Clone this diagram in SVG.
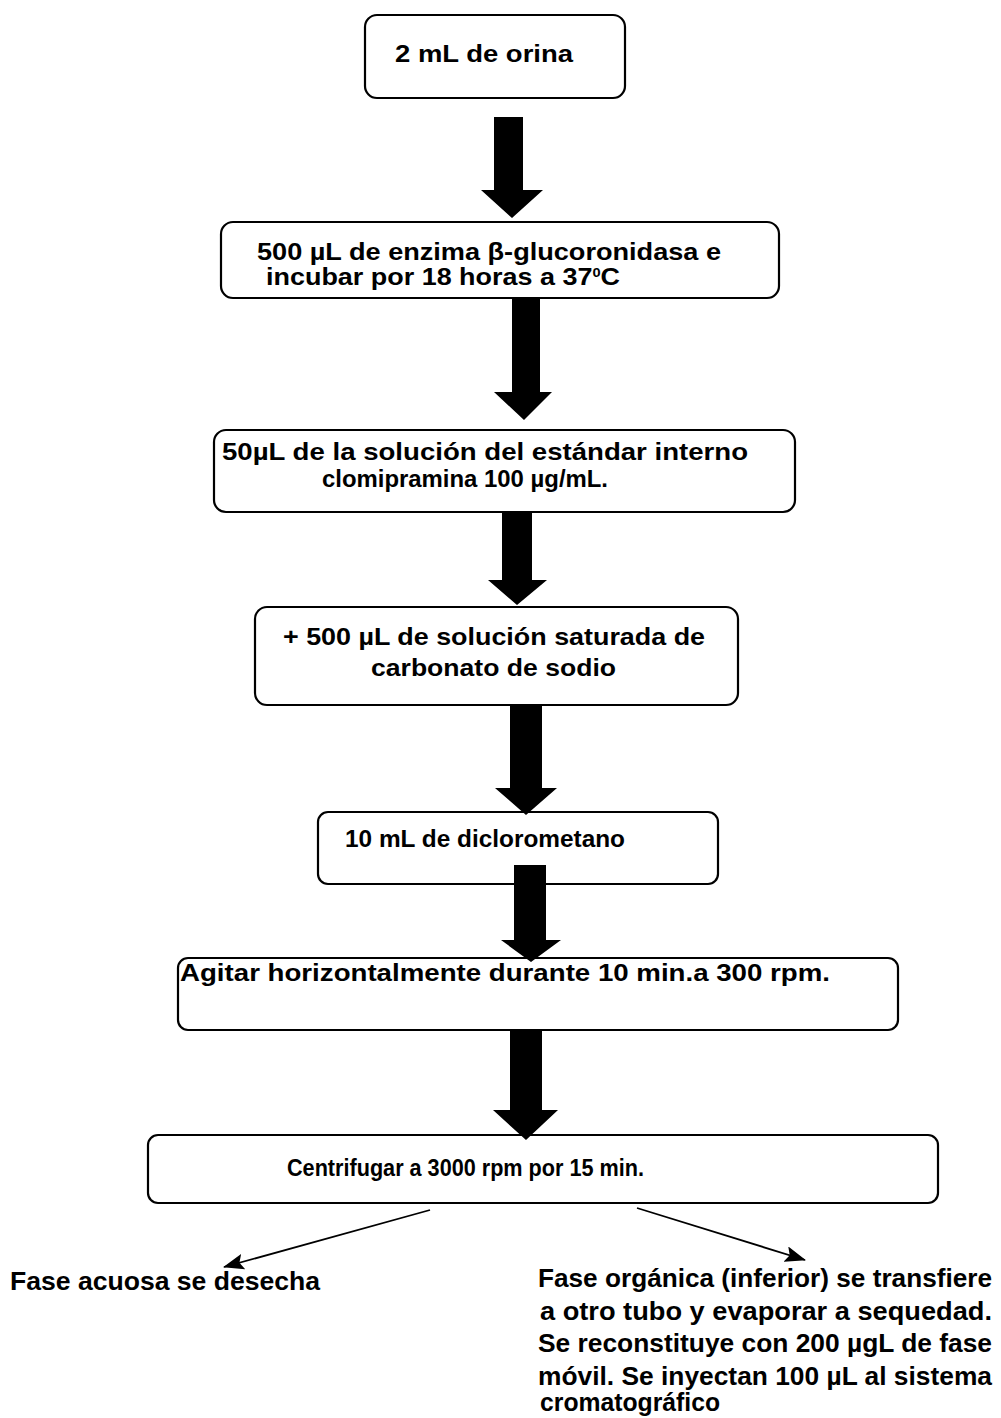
<svg xmlns="http://www.w3.org/2000/svg" width="1001" height="1418" viewBox="0 0 1001 1418">
<style>
.box{fill:#fff;stroke:#000;stroke-width:2.2}
.t{font-family:"Liberation Sans",Arial,sans-serif;font-weight:bold;font-size:24px;fill:#000}
.b{font-family:"Liberation Sans",Arial,sans-serif;font-weight:bold;font-size:25px;fill:#000}
.arr{fill:#000}
.thin{stroke:#000;stroke-width:1.8;fill:none}
</style>
<defs>
<marker id="ah" markerWidth="22" markerHeight="16" refX="20" refY="8" orient="auto" markerUnits="userSpaceOnUse">
<path d="M0,0 L21,8 L0,16 L4,8 z" fill="#000"/>
</marker>
</defs>
<rect width="1001" height="1418" fill="#fff"/>
<g id="n1">
<rect class="box" x="365" y="15" width="260" height="83" rx="12"/>
<text class="t" x="395" y="62" textLength="178" lengthAdjust="spacingAndGlyphs">2 mL de orina</text>
</g>
<g id="n2">
<rect class="box" x="221" y="222" width="558" height="76" rx="12"/>
<text class="t" x="257" y="260" font-size="20" textLength="464" lengthAdjust="spacingAndGlyphs">500  µL de enzima β-glucoronidasa e</text>
<text class="t" x="266" y="285" font-size="20" textLength="354" lengthAdjust="spacingAndGlyphs">incubar por 18 horas a 37<tspan font-size="13" dy="-8">0</tspan><tspan dy="8">C</tspan></text>
</g>
<g id="n3">
<rect class="box" x="214" y="430" width="581" height="82" rx="12"/>
<text class="t" x="222" y="460" font-size="25" textLength="526" lengthAdjust="spacingAndGlyphs">50µL de la solución del estándar interno</text>
<text class="t" x="322" y="487" font-size="25" textLength="286" lengthAdjust="spacingAndGlyphs">clomipramina 100 µg/mL.</text>
</g>
<g id="n4">
<rect class="box" x="255" y="607" width="483" height="98" rx="12"/>
<text class="t" x="283" y="645" font-size="25" textLength="422" lengthAdjust="spacingAndGlyphs">+ 500 µL de solución saturada de</text>
<text class="t" x="371" y="676" font-size="25" textLength="245" lengthAdjust="spacingAndGlyphs">carbonato de sodio</text>
</g>
<g id="n5">
<rect class="box" x="318" y="812" width="400" height="72" rx="10"/>
<text class="t" x="345" y="847" textLength="280" lengthAdjust="spacingAndGlyphs">10 mL de diclorometano</text>
</g>
<g id="n6">
<rect class="box" x="178" y="958" width="720" height="72" rx="10"/>
<text class="t" x="180" y="981" textLength="650" lengthAdjust="spacingAndGlyphs">Agitar horizontalmente  durante 10 min.a 300 rpm.</text>
</g>
<g id="n7">
<rect class="box" x="148" y="1135" width="790" height="68" rx="10"/>
<text class="t" x="287" y="1176" textLength="357" lengthAdjust="spacingAndGlyphs">Centrifugar a 3000 rpm por 15 min.</text>
</g>
<g id="n8">
<text class="b" x="10" y="1290" textLength="310" lengthAdjust="spacingAndGlyphs">Fase acuosa se desecha</text>
</g>
<g id="n9">
<text class="b" x="538" y="1287" textLength="454" lengthAdjust="spacingAndGlyphs">Fase orgánica (inferior) se transfiere</text>
<text class="b" x="540" y="1320" textLength="452" lengthAdjust="spacingAndGlyphs">a  otro tubo y evaporar a sequedad.</text>
<text class="b" x="538" y="1352" textLength="454" lengthAdjust="spacingAndGlyphs">Se reconstituye con 200 µgL de fase</text>
<text class="b" x="538" y="1385" textLength="454" lengthAdjust="spacingAndGlyphs">móvil. Se inyectan 100 µL al sistema</text>
<text class="b" x="540" y="1411" textLength="180" lengthAdjust="spacingAndGlyphs">cromatográfico</text>
</g>
<g id="connectors">
<polygon class="arr" points="494,117 523,117 523,190 543,190 512,218 481,190 494,190"/>
<polygon class="arr" points="512,298 540,298 540,392 552,392 524,420 494,392 512,392"/>
<polygon class="arr" points="502,512 532,512 532,580 547,580 517,605 488,580 502,580"/>
<polygon class="arr" points="510,705 542,705 542,788 557,788 526,815 495,788 510,788"/>
<polygon class="arr" points="514,865 546,865 546,940 561,940 531,962 501,940 514,940"/>
<polygon class="arr" points="510,1030 542,1030 542,1110 558,1110 526,1140 493,1110 510,1110"/>
<line class="thin" x1="430" y1="1210" x2="224" y2="1267" marker-end="url(#ah)"/>
<line class="thin" x1="637" y1="1208" x2="805" y2="1260" marker-end="url(#ah)"/>
</g>
</svg>
